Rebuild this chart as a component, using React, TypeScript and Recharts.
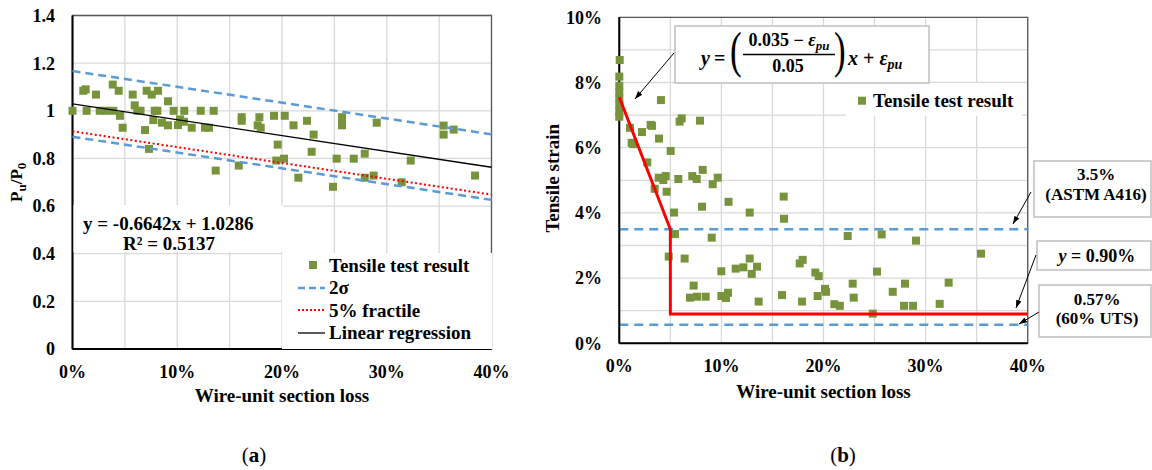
import React from 'react';
import {
  ScatterChart,
  Scatter,
  XAxis,
  YAxis,
  CartesianGrid,
  ReferenceLine,
  ReferenceArea,
  Legend,
  Label,
} from 'recharts';

const FONT = "'Liberation Serif', 'Times New Roman', Times, serif";
const GREEN = '#77933C';
const BLUE = '#5B9BD5';
const RED = '#FF0000';
const GRID = '#d9d9d9';

// ---------- shared x axis ----------
const xTicks = [0, 0.05, 0.1, 0.15, 0.2, 0.25, 0.3, 0.35, 0.4];

// ---------- panel (a) ----------
const yTicksA = [0, 0.2, 0.4, 0.6, 0.8, 1.0, 1.2, 1.4];

const testA = [
  { x: 0.0, y: 1.0 }, { x: 0.0103, y: 1.084 }, { x: 0.0126, y: 1.09 }, { x: 0.0224, y: 1.068 },
  { x: 0.0135, y: 1.0 }, { x: 0.026, y: 1.0 }, { x: 0.032, y: 1.0 }, { x: 0.0384, y: 1.11 },
  { x: 0.0441, y: 1.084 }, { x: 0.039, y: 1.0 }, { x: 0.0453, y: 0.979 }, { x: 0.0479, y: 0.929 },
  { x: 0.0575, y: 1.068 }, { x: 0.0594, y: 1.023 }, { x: 0.0619, y: 1.0 }, { x: 0.065, y: 1.0 },
  { x: 0.0692, y: 0.919 }, { x: 0.0708, y: 1.084 }, { x: 0.0756, y: 1.068 }, { x: 0.073, y: 0.84 },
  { x: 0.0816, y: 1.084 }, { x: 0.0772, y: 0.961 }, { x: 0.0785, y: 1.0 }, { x: 0.081, y: 1.0 },
  { x: 0.0854, y: 0.95 }, { x: 0.0912, y: 1.04 }, { x: 0.0912, y: 0.939 }, { x: 0.0966, y: 1.0 },
  { x: 0.1007, y: 0.94 }, { x: 0.1026, y: 0.964 }, { x: 0.1067, y: 1.0 }, { x: 0.1064, y: 0.954 },
  { x: 0.1138, y: 0.929 }, { x: 0.1224, y: 1.0 }, { x: 0.1265, y: 0.929 }, { x: 0.1303, y: 0.929 },
  { x: 0.1348, y: 1.0 }, { x: 0.1367, y: 0.749 }, { x: 0.1587, y: 0.77 }, { x: 0.1615, y: 0.973 },
  { x: 0.1615, y: 0.958 }, { x: 0.1784, y: 0.973 }, { x: 0.1768, y: 0.939 }, { x: 0.1797, y: 0.929 },
  { x: 0.1924, y: 0.979 }, { x: 0.1959, y: 0.858 }, { x: 0.1946, y: 0.791 }, { x: 0.2019, y: 0.799 },
  { x: 0.2026, y: 0.979 }, { x: 0.211, y: 0.939 }, { x: 0.2156, y: 0.719 }, { x: 0.2239, y: 0.958 },
  { x: 0.2302, y: 0.9 }, { x: 0.2283, y: 0.828 }, { x: 0.2487, y: 0.681 }, { x: 0.2522, y: 0.799 },
  { x: 0.2573, y: 0.973 }, { x: 0.2573, y: 0.958 }, { x: 0.2573, y: 0.939 }, { x: 0.2685, y: 0.799 },
  { x: 0.279, y: 0.82 }, { x: 0.279, y: 0.719 }, { x: 0.2875, y: 0.728 }, { x: 0.2904, y: 0.95 },
  { x: 0.3143, y: 0.7 }, { x: 0.3229, y: 0.791 }, { x: 0.3543, y: 0.938 }, { x: 0.3543, y: 0.9 },
  { x: 0.3639, y: 0.921 }, { x: 0.3843, y: 0.728 },
];

const regressionLine = [{ x: 0, y: 1.0286 }, { x: 0.4, y: 0.763 }];
const sigmaUpper = [{ x: 0, y: 1.167 }, { x: 0.4, y: 0.901 }];
const sigmaLower = [{ x: 0, y: 0.891 }, { x: 0.4, y: 0.626 }];
const fractile5 = [{ x: 0, y: 0.914 }, { x: 0.4, y: 0.648 }];

// ---------- panel (b) ----------
const yTicksB = [0, 0.01, 0.02, 0.03, 0.04, 0.05, 0.06, 0.07, 0.08, 0.09, 0.1];

const testB = [
  { x: 0.0004, y: 0.0869 }, { x: 0.0, y: 0.0818 }, { x: 0.0, y: 0.079 }, { x: 0.0, y: 0.077 },
  { x: 0.0, y: 0.075 }, { x: 0.0, y: 0.073 }, { x: 0.0, y: 0.071 }, { x: 0.0, y: 0.0695 },
  { x: 0.0105, y: 0.0661 }, { x: 0.0121, y: 0.0615 }, { x: 0.0137, y: 0.0611 }, { x: 0.0222, y: 0.0648 },
  { x: 0.0307, y: 0.067 }, { x: 0.032, y: 0.0667 }, { x: 0.0408, y: 0.0746 }, { x: 0.0389, y: 0.0628 },
  { x: 0.0274, y: 0.0555 }, { x: 0.0503, y: 0.059 }, { x: 0.0591, y: 0.068 }, { x: 0.0611, y: 0.069 },
  { x: 0.079, y: 0.0683 }, { x: 0.0386, y: 0.0508 }, { x: 0.0431, y: 0.0501 }, { x: 0.0454, y: 0.0513 },
  { x: 0.0578, y: 0.0504 }, { x: 0.0715, y: 0.0513 }, { x: 0.0758, y: 0.0504 }, { x: 0.0817, y: 0.0532 },
  { x: 0.0915, y: 0.0488 }, { x: 0.0964, y: 0.0508 }, { x: 0.0346, y: 0.0474 }, { x: 0.0464, y: 0.0465 },
  { x: 0.161, y: 0.045 }, { x: 0.081, y: 0.0419 }, { x: 0.107, y: 0.0434 }, { x: 0.0536, y: 0.0401 },
  { x: 0.1277, y: 0.0401 }, { x: 0.1613, y: 0.0382 }, { x: 0.0545, y: 0.0335 }, { x: 0.0905, y: 0.0324 },
  { x: 0.0484, y: 0.0266 }, { x: 0.064, y: 0.026 }, { x: 0.0999, y: 0.0221 }, { x: 0.114, y: 0.0229 },
  { x: 0.1215, y: 0.0233 }, { x: 0.1277, y: 0.026 }, { x: 0.1297, y: 0.0213 }, { x: 0.1349, y: 0.0235 },
  { x: 0.1767, y: 0.0245 }, { x: 0.1796, y: 0.0256 }, { x: 0.192, y: 0.0217 }, { x: 0.1953, y: 0.0206 },
  { x: 0.0728, y: 0.0177 }, { x: 0.0692, y: 0.014 }, { x: 0.0761, y: 0.0143 }, { x: 0.0846, y: 0.0143 },
  { x: 0.0999, y: 0.0145 }, { x: 0.1045, y: 0.0139 }, { x: 0.1065, y: 0.0155 }, { x: 0.1365, y: 0.0128 },
  { x: 0.1594, y: 0.0148 }, { x: 0.179, y: 0.0128 }, { x: 0.1943, y: 0.0145 }, { x: 0.2015, y: 0.0167 },
  { x: 0.2025, y: 0.0158 }, { x: 0.2106, y: 0.012 }, { x: 0.216, y: 0.0115 }, { x: 0.2237, y: 0.0329 },
  { x: 0.257, y: 0.0334 }, { x: 0.2906, y: 0.0315 }, { x: 0.3543, y: 0.0275 }, { x: 0.2524, y: 0.022 },
  { x: 0.2286, y: 0.0183 }, { x: 0.2798, y: 0.0183 }, { x: 0.3226, y: 0.0186 }, { x: 0.2678, y: 0.0158 },
  { x: 0.2296, y: 0.014 }, { x: 0.2789, y: 0.0115 }, { x: 0.2877, y: 0.0115 }, { x: 0.3138, y: 0.0121 },
  { x: 0.2482, y: 0.0091 },
];

const modelLine = [
  { x: 0, y: 0.0755 },
  { x: 0.05, y: 0.035 },
  { x: 0.05, y: 0.009 },
  { x: 0.4, y: 0.009 },
];
const astmLimit = 0.035;
const utsLimit = 0.0057;

// ---------- helpers ----------
const fmtX = (v: number) => {
  const p = Math.round(v * 100);
  return p % 10 === 0 ? `${p}%` : '';
};
const fmtYA = (v: number) => String(Number(v.toFixed(1)));
const fmtYB = (v: number) => {
  const p = Math.round(v * 100);
  return p % 2 === 0 ? `${p}%` : '';
};

const tickStyle = { fill: '#000', fontSize: 18, fontWeight: 700, fontFamily: FONT };
const axisLineStyle = { stroke: '#000', strokeWidth: 2 };
const noShape = () => <g />;

const XTitle = (dy: number) => (props: any) => {
  const vb = props.viewBox || {};
  return (
    <text
      x={vb.x + vb.width / 2}
      y={vb.y + dy}
      textAnchor="middle"
      fontFamily={FONT}
      fontWeight={700}
      fontSize={19}
      fill="#000"
    >
      Wire-unit section loss
    </text>
  );
};

const YTitleA = (props: any) => {
  const vb = props.viewBox || {};
  const cx = vb.x + 9.5;
  const cy = vb.y + vb.height / 2;
  return (
    <text
      x={cx}
      y={cy}
      transform={`rotate(-90 ${cx} ${cy})`}
      textAnchor="middle"
      fontFamily={FONT}
      fontWeight={700}
      fontSize={17}
      fill="#000"
    >
      P<tspan dy={4} fontSize={13}>u</tspan>
      <tspan dy={-4}>/P</tspan>
      <tspan dy={4} fontSize={13}>0</tspan>
    </text>
  );
};

const YTitleB = (props: any) => {
  const vb = props.viewBox || {};
  const cx = vb.x - 0.3;
  const cy = vb.y + vb.height / 2 - 2;
  return (
    <text
      x={cx}
      y={cy}
      transform={`rotate(-90 ${cx} ${cy})`}
      textAnchor="middle"
      fontFamily={FONT}
      fontWeight={700}
      fontSize={19}
      fill="#000"
    >
      Tensile strain
    </text>
  );
};

const legendText = { fontFamily: FONT, fontWeight: 700, fontSize: 19, fill: '#000' } as const;

const LegendA = () => (
  <svg width={210} height={96} style={{ display: 'block' }}>
    <rect x={0} y={0} width={210} height={96} fill="#fff" />
    <rect x={27} y={8} width={8} height={8} fill={GREEN} />
    <text x={47} y={18.5} {...legendText}>Tensile test result</text>
    <line x1={16} x2={43} y1={35} y2={35} stroke={BLUE} strokeWidth={2.5} strokeDasharray="7 4" />
    <text x={47} y={41} {...legendText}>2σ</text>
    <line x1={16} x2={43} y1={57} y2={57} stroke={RED} strokeWidth={2} strokeDasharray="2 2" />
    <text x={47} y={63.5} {...legendText}>5% fractile</text>
    <line x1={16} x2={43} y1={80} y2={80} stroke="#000" strokeWidth={1.3} />
    <text x={47} y={86} {...legendText}>Linear regression</text>
  </svg>
);

const LegendB = () => (
  <svg width={176} height={33} style={{ display: 'block' }}>
    <rect x={0} y={0} width={176} height={33} fill="#fff" />
    <rect x={12} y={13.7} width={8} height={8} fill={GREEN} />
    <text x={27} y={24} {...legendText}>Tensile test result</text>
  </svg>
);

function ChartA() {
  return (
    <ScatterChart width={520} height={470} margin={{ top: 15.5, right: 28.5, bottom: 91, left: 12.5 }}>
      <CartesianGrid stroke={GRID} strokeWidth={1.3} />
      <ReferenceArea x1={0} x2={0.4} y1={0} y2={1.4} fill="none" stroke="#595959" strokeWidth={1.3} ifOverflow="visible" />
      <Scatter name="Tensile test result" data={testA} fill={GREEN} shape="square" isAnimationActive={false} />
      <Scatter name="2σ upper" data={sigmaUpper} line={{ stroke: BLUE, strokeWidth: 2.5, strokeDasharray: '8 5' }} shape={noShape} legendType="none" isAnimationActive={false} />
      <Scatter name="2σ lower" data={sigmaLower} line={{ stroke: BLUE, strokeWidth: 2.5, strokeDasharray: '8 5' }} shape={noShape} legendType="none" isAnimationActive={false} />
      <Scatter name="5% fractile" data={fractile5} line={{ stroke: RED, strokeWidth: 2, strokeDasharray: '2 2.5' }} shape={noShape} legendType="none" isAnimationActive={false} />
      <Scatter name="Linear regression" data={regressionLine} line={{ stroke: '#000', strokeWidth: 1.3 }} shape={noShape} legendType="none" isAnimationActive={false} />
      <XAxis
        type="number"
        dataKey="x"
        domain={[0, 0.4]}
        ticks={xTicks}
        interval={0}
        tickFormatter={fmtX}
        tickLine={false}
        axisLine={axisLineStyle}
        tick={tickStyle}
        tickMargin={10}
        height={30}
      >
        <Label content={XTitle(53)} />
      </XAxis>
      <YAxis
        type="number"
        dataKey="y"
        domain={[0, 1.4]}
        ticks={yTicksA}
        interval={0}
        tickFormatter={fmtYA}
        tickLine={false}
        axisLine={axisLineStyle}
        tick={tickStyle}
        tickMargin={11.5}
        width={60}
      >
        <Label content={YTitleA} />
      </YAxis>
      <Legend
        layout="vertical"
        align="center"
        verticalAlign="middle"
        content={LegendA}
        wrapperStyle={{ left: 282, top: 253, width: 210, height: 96 }}
      />
    </ScatterChart>
  );
}

function ChartB() {
  return (
    <ScatterChart width={622} height={470} margin={{ top: 17.3, right: 124.3, bottom: 96.7, left: 29.3 }}>
      <CartesianGrid stroke={GRID} strokeWidth={1.3} />
      <ReferenceArea x1={0} x2={0.4} y1={0} y2={0.1} fill="none" stroke="#595959" strokeWidth={1.3} ifOverflow="visible" />
      <Scatter name="Tensile test result" data={testB} fill={GREEN} shape="square" isAnimationActive={false} />
      <ReferenceLine y={astmLimit} stroke={BLUE} strokeWidth={2.5} strokeDasharray="9 6" />
      <ReferenceLine y={utsLimit} stroke={BLUE} strokeWidth={2.5} strokeDasharray="9 6" />
      <Scatter name="Model" data={modelLine} line={{ stroke: RED, strokeWidth: 3 }} shape={noShape} legendType="none" isAnimationActive={false} />
      <XAxis
        type="number"
        dataKey="x"
        domain={[0, 0.4]}
        ticks={xTicks}
        interval={0}
        tickFormatter={fmtX}
        tickLine={false}
        axisLine={axisLineStyle}
        tick={tickStyle}
        tickMargin={10}
        height={30}
      >
        <Label content={XTitle(54.7)} />
      </XAxis>
      <YAxis
        type="number"
        dataKey="y"
        domain={[0, 0.1]}
        ticks={yTicksB}
        interval={0}
        tickFormatter={fmtYB}
        tickLine={false}
        axisLine={axisLineStyle}
        tick={tickStyle}
        tickMargin={11.3}
        width={60}
      >
        <Label content={YTitleB} />
      </YAxis>
      <Legend
        layout="vertical"
        align="center"
        verticalAlign="middle"
        content={LegendB}
        wrapperStyle={{ left: 316, top: 83, width: 176, height: 33 }}
      />
    </ScatterChart>
  );
}

const boxStroke = '#bfbfbf';
const annText = { fontFamily: FONT, fontWeight: 700, fontSize: 17, fill: '#000', textAnchor: 'middle' } as const;

function Overlay() {
  return (
    <svg
      width={1152}
      height={470}
      style={{ position: 'absolute', left: 0, top: 0, pointerEvents: 'none' }}
    >
      <defs>
        <marker id="arrowHead" viewBox="0 0 10 10" refX="10" refY="5" markerWidth="8" markerHeight="8" orient="auto">
          <path d="M0,1.5 L10,5 L0,8.5 z" fill="#000" />
        </marker>
      </defs>

      {/* panel (a) regression equation */}
      <rect x={73.5} y={205} width={209.5} height={47} fill="#fff" />
      <text x={83} y={230} fontFamily={FONT} fontWeight={700} fontSize={19} fill="#000">
        y = -0.6642x + 1.0286
      </text>
      <text x={123} y={250} fontFamily={FONT} fontWeight={700} fontSize={19} fill="#000">
        R² = 0.5137
      </text>

      {/* panel (b) equation */}
      <rect x={675} y={26} width={254} height={57} fill="#fff" stroke={boxStroke} strokeWidth={1.5} />
      <g fontFamily={FONT} fontWeight={700} fill="#000">
        <text x={701} y={65} fontSize={20} fontStyle="italic">y</text>
        <text x={714} y={65} fontSize={20}>=</text>
        <text transform="translate(730 67) scale(0.7 1)" fontSize={50} fontWeight={400}>(</text>
        <text x={789} y={46} fontSize={18} textAnchor="middle">
          0.035 − <tspan fontStyle="italic">ε</tspan>
          <tspan fontStyle="italic" fontSize={13} dy={4}>pu</tspan>
        </text>
        <line x1={743} x2={835} y1={54.5} y2={54.5} stroke="#000" strokeWidth={1.6} />
        <text x={788} y={72} fontSize={18} textAnchor="middle">0.05</text>
        <text transform="translate(834 67) scale(0.7 1)" fontSize={50} fontWeight={400}>)</text>
        <text x={848} y={65} fontSize={20}>
          <tspan fontStyle="italic">x</tspan> + <tspan fontStyle="italic">ε</tspan>
          <tspan fontStyle="italic" fontSize={14} dy={4}>pu</tspan>
        </text>
      </g>
      <line x1={674} y1={53} x2={635} y2={99} stroke="#000" strokeWidth={1} markerEnd="url(#arrowHead)" />

      {/* 3.5% box */}
      <rect x={1034} y={161} width={117} height={56} fill="#fff" stroke={boxStroke} strokeWidth={1.5} />
      <text x={1096} y={180} {...annText}>3.5%</text>
      <text x={1096} y={200} {...annText}>(ASTM A416)</text>
      <line x1={1031} y1={192} x2={1013} y2={224} stroke="#000" strokeWidth={1} markerEnd="url(#arrowHead)" />

      {/* y = 0.90% box */}
      <rect x={1037} y={241} width={114} height={29} fill="#fff" stroke={boxStroke} strokeWidth={1.5} />
      <text x={1097} y={262} {...annText} fontSize={18}>
        <tspan fontStyle="italic">y</tspan> = 0.90%
      </text>
      <line x1={1036} y1={255} x2={1016} y2={308} stroke="#000" strokeWidth={1} markerEnd="url(#arrowHead)" />

      {/* 0.57% box */}
      <rect x={1039} y={285} width={112} height={52} fill="#fff" stroke={boxStroke} strokeWidth={1.5} />
      <text x={1097} y={305} {...annText}>0.57%</text>
      <text x={1097} y={324} {...annText}>(60% UTS)</text>
      <line x1={1039} y1={312} x2={1019} y2={324} stroke="#000" strokeWidth={1} markerEnd="url(#arrowHead)" />

      {/* captions */}
      <text x={254} y={462} textAnchor="middle" fontFamily={FONT} fontSize={21} fill="#000">
        (<tspan fontWeight={700}>a</tspan>)
      </text>
      <text x={843} y={462} textAnchor="middle" fontFamily={FONT} fontSize={21} fill="#000">
        (<tspan fontWeight={700}>b</tspan>)
      </text>
    </svg>
  );
}

export default function App() {
  return (
    <div
      style={{
        position: 'absolute',
        left: 0,
        top: 0,
        width: 1152,
        height: 470,
        background: '#fff',
        overflow: 'hidden',
      }}
    >
      <div style={{ position: 'absolute', left: 0, top: 0 }}>
        <ChartA />
      </div>
      <div style={{ position: 'absolute', left: 530, top: 0 }}>
        <ChartB />
      </div>
      <Overlay />
    </div>
  );
}
